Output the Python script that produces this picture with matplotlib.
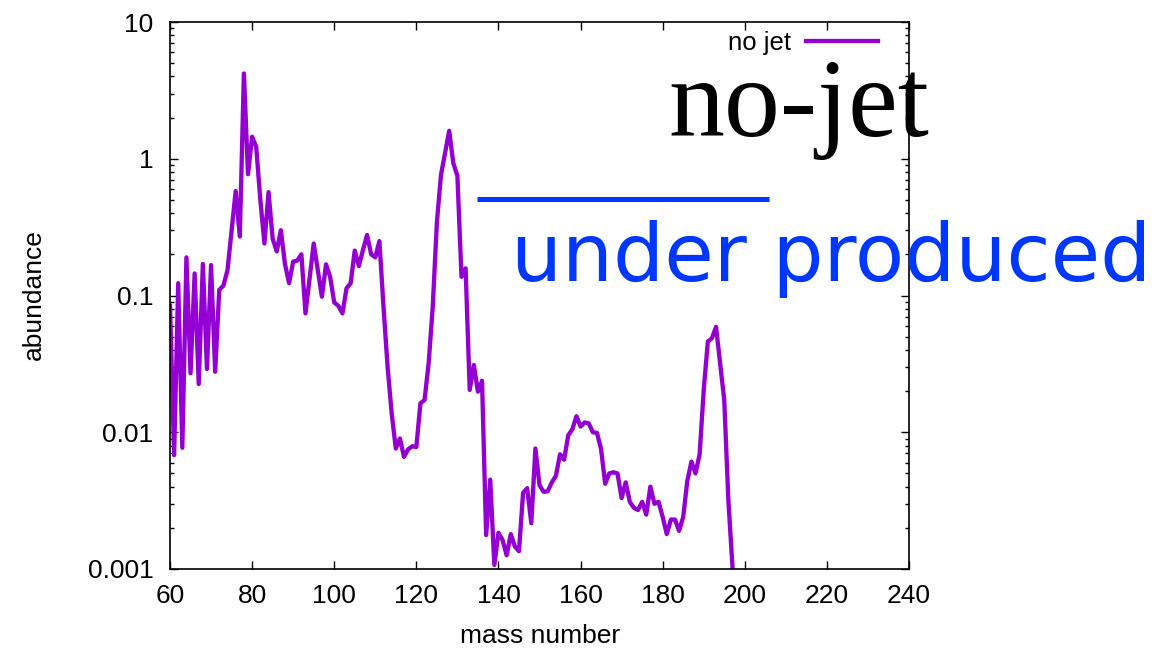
import matplotlib
matplotlib.use("Agg")
import matplotlib.pyplot as plt
from matplotlib.lines import Line2D

# abundance per mass number
mass = list(range(60, 199))
abundance = [
    0.084, 0.0068, 0.123, 0.0077, 0.19, 0.027, 0.145, 0.0225, 0.17, 0.029,     # 60-69
    0.167, 0.0277, 0.11, 0.118, 0.153, 0.30, 0.58, 0.27, 4.2, 0.77,            # 70-79
    1.45, 1.22, 0.5, 0.24, 0.57, 0.26, 0.21, 0.30, 0.17, 0.123,                # 80-89
    0.177, 0.18, 0.20, 0.074, 0.134, 0.24, 0.153, 0.098, 0.169, 0.137,         # 90-99
    0.089, 0.084, 0.074, 0.113, 0.123, 0.213, 0.164, 0.215, 0.277, 0.20,       # 100-109
    0.19, 0.25, 0.083, 0.030, 0.0137, 0.0076, 0.009, 0.0066, 0.0075, 0.0079,   # 110-119
    0.0078, 0.0163, 0.0172, 0.032, 0.083, 0.34, 0.76, 1.1, 1.6, 0.93,          # 120-129
    0.75, 0.137, 0.158, 0.0204, 0.031, 0.0198, 0.0238, 0.00177, 0.0045, 0.00107,  # 130-139
    0.00184, 0.00163, 0.00126, 0.0018, 0.00146, 0.00135, 0.0036, 0.0039, 0.00216, 0.0076,  # 140-149
    0.0041, 0.00367, 0.0037, 0.0043, 0.0048, 0.0069, 0.0063, 0.0095, 0.0105, 0.0131,  # 150-159
    0.011, 0.0118, 0.0116, 0.010, 0.0099, 0.0075, 0.0042, 0.0050, 0.0051, 0.0050,  # 160-169
    0.0033, 0.0043, 0.0031, 0.0028, 0.0027, 0.0031, 0.0025, 0.0040, 0.0030, 0.0031,  # 170-179
    0.0024, 0.0018, 0.0023, 0.0023, 0.0019, 0.0024, 0.0044, 0.0061, 0.0050, 0.0069,  # 180-189
    0.0204, 0.046, 0.0487, 0.059, 0.032, 0.0172, 0.0032, 0.00104, 0.0003,     # 190-198
]
xticks = [60, 80, 100, 120, 140, 160, 180, 200, 220, 240]
yticks = [0.001, 0.01, 0.1, 1, 10]
ytick_labels = ["0.001", "0.01", "0.1", "1", "10"]

W, H = 1175, 650
fig = plt.figure(figsize=(W / 100, H / 100), dpi=100)
plt.rcParams['font.family'] = ['Liberation Sans', 'DejaVu Sans']

# helpers: pixel position -> figure fraction
def fx(px):
    return px / W

def fy(py):
    return 1 - py / H

ax = fig.add_axes([fx(170), fy(569), fx(909) - fx(170), fy(22) - fy(569)])
ax.plot(mass, abundance, color='#9400d3', lw=3.1, label='no jet')
ax.set_yscale('log')
ax.set_xlim(60, 240)
ax.set_ylim(0.001, 10)
ax.set_xticks(xticks)
ax.set_yticks(yticks)
ax.set_yticklabels(ytick_labels)
ax.tick_params(which='both', direction='in', top=True, right=True,
               labelsize=19, width=1.0, color='black')
ax.tick_params(which='major', length=6)
ax.tick_params(which='minor', length=3)
ax.tick_params(axis='x', pad=11)
ax.tick_params(axis='y', pad=12)
ax.minorticks_on()
ax.xaxis.set_minor_locator(matplotlib.ticker.NullLocator())
for s in ax.spines.values():
    s.set_linewidth(1.2)

ax.legend(loc='center right', bbox_to_anchor=(fx(878), fy(43)),
          bbox_transform=fig.transFigure, markerfirst=False, frameon=False,
          fontsize=18.5, handlelength=2.8, handletextpad=0.6,
          borderpad=0, borderaxespad=0)

fig.text(fx(540), fy(643), 'mass number', ha='center', va='baseline', fontsize=19)
fig.text(fx(34), fy(295), 'abundance', ha='center', va='center',
         rotation=90, fontsize=19)

# annotations on top
fig.text(fx(668), fy(136), 'no-jet', ha='left', va='baseline',
         fontsize=80.5, family=['Liberation Serif'], color='black', zorder=5)
fig.add_artist(Line2D([fx(477), fx(769)], [fy(199), fy(199)],
                      color='#0037ff', lw=3.6, solid_capstyle='butt'))
fig.text(fx(511), fy(281), 'under produced', ha='left', va='baseline',
         fontsize=58, family=['DejaVu Sans'], color='#0037ff', zorder=5)

fig.savefig('out.png', dpi=100)
